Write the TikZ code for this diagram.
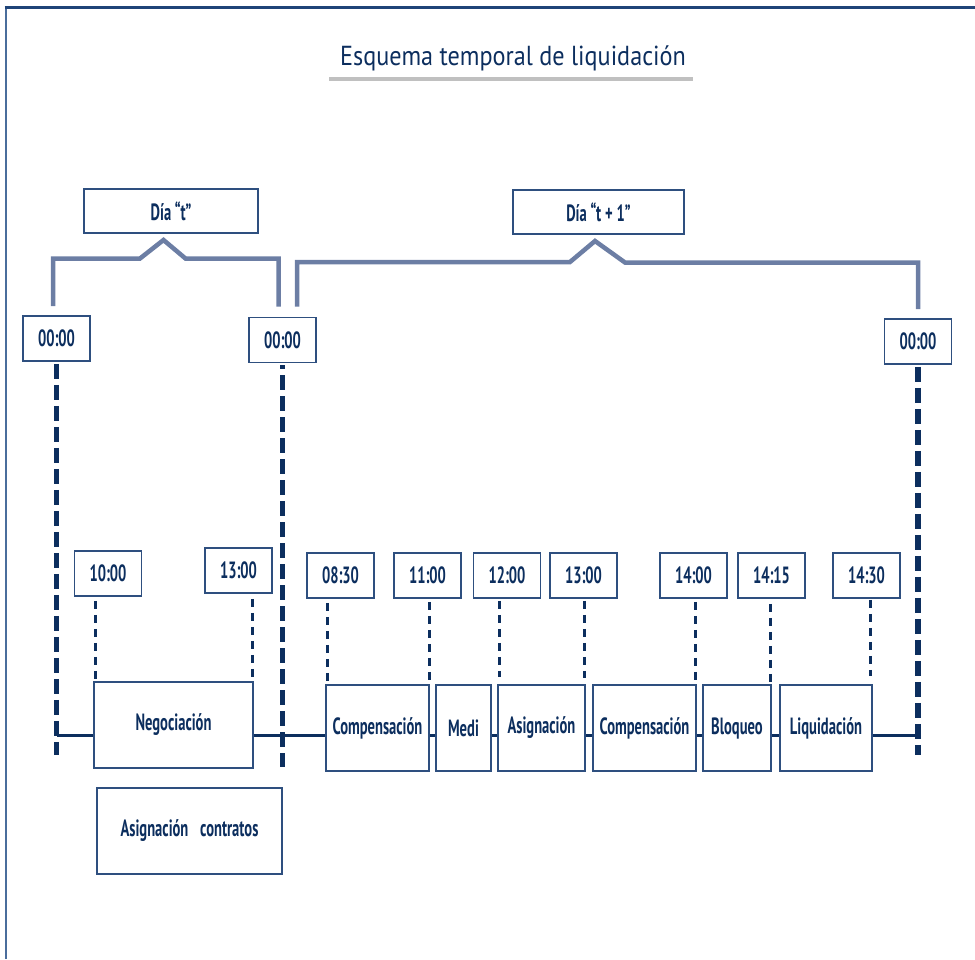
\documentclass[tikz,border=0pt]{standalone}
\usepackage{fontspec}
\newfontfamily\lblfont[FakeStretch=0.62]{PT Sans Bold}
\newfontfamily\ttlfont[FakeStretch=0.88]{PT Sans}
\definecolor{navy}{RGB}{12,46,94}
\definecolor{boxc}{RGB}{46,79,127}
\definecolor{brk}{RGB}{108,126,164}
\definecolor{frametop}{RGB}{31,68,120}
\definecolor{frameleft}{RGB}{74,109,156}
\definecolor{ulgray}{RGB}{192,192,192}
\tikzset{
  timebox/.style={draw=boxc, line width=1.6pt, fill=white, text=navy,
    minimum width=67pt, minimum height=45pt, inner sep=0pt,
    font=\lblfont\fontsize{23.5}{27}\selectfont},
  daybox/.style={timebox, minimum height=44pt},
  procbox/.style={draw=boxc, line width=1.6pt, fill=white, text=navy,
    minimum height=86pt, inner sep=0pt,
    font=\lblfont\fontsize{23.5}{27}\selectfont},
  bracket/.style={draw=brk, line width=4.5pt, line join=miter},
  daysep/.style={draw=navy, line width=5.5pt, dash pattern=on 15pt off 6pt},
  tick/.style={draw=navy, line width=3pt, dash pattern=on 8pt off 6pt},
  timeline/.style={draw=navy, line width=3pt},
}
\begin{document}
\begin{tikzpicture}[x=1pt,y=-1pt]
\useasboundingbox (0,0) rectangle (975,959);

% outer frame (top and left edges)
\draw[frameleft, line width=2pt] (5.5,959) -- (5.5,7.5);
\draw[frametop, line width=2.2pt] (4.5,7.5) -- (975,7.5);

% title with its underline
\node[text=navy, font=\ttlfont\fontsize{27.5}{32}\selectfont] (title) at (513,58) {Esquema temporal de liquidación};
\coordinate (ulA) at (329,79);
\coordinate (ulB) at (693,79);
\draw[ulgray, line width=3.5pt] (ulA) -- (ulB);

% horizontal time axis
\coordinate (tlA) at (56.5,735);
\coordinate (tlC) at (918,735);
\draw[timeline] (tlA) -- (tlC);

% day labels
\node[daybox, minimum width=174pt] (dt) at (171,211) {Día “t”};
\node[daybox, minimum width=171pt] (dt1) at (598.5,212) {Día “t\,+\,1”};

% midnight markers
\node[timebox] (ta) at (56.5,338.5) {00:00};
\node[timebox] (tb) at (282.5,340) {00:00};
\node[timebox] (tc) at (918,341.5) {00:00};

% brackets spanning each day
\coordinate (pkt) at (163.5,240);
\coordinate (pkt1) at (595,241);
\draw[bracket] ([xshift=-3.5pt,yshift=9pt]ta.north) |- (140,258.5) -- (pkt) -- (185.5,258.5) -| ([xshift=-4pt,yshift=10pt]tb.north);
\draw[bracket] ([xshift=14.5pt,yshift=10pt]tb.north) |- (570,262) -- (pkt1) -- (625,262.5) -| ([yshift=9pt]tc.north);

% day separators
\coordinate (endA) at (56.5,755);
\coordinate (endB) at (282.5,767);
\coordinate (endC) at (918,755);
\draw[daysep] ([yshift=-2pt]ta.south) -- (endA);
\draw[daysep, dash phase=11pt] ([yshift=-2pt]tb.south) -- (endB);
\draw[daysep] ([yshift=-2pt]tc.south) -- (endC);

% day t activities
\node[procbox, minimum width=159pt] (neg) at (173.5,725) {Negociación};
\node[procbox, minimum width=185pt] (asc) at (189.5,831) {Asignación\hspace{0.5em}contratos};

% day t+1 activities
\node[procbox, minimum width=103pt] (comp1) at (377.5,728) {Compensación};
\node[procbox, minimum width=55pt]  (medi)  at (463.5,728) {Medi};
\node[procbox, minimum width=87pt]  (asig)  at (541.5,728) {Asignación};
\node[procbox, minimum width=103pt] (comp2) at (644.5,728) {Compensación};
\node[procbox, minimum width=68pt]  (bloq)  at (737,728) {Bloqueo};
\node[procbox, minimum width=92pt]  (liq)   at (826,728) {Liquidación};

% time stamps
\node[timebox] (h1000) at (108,573.5) {10:00};
\node[timebox] (h1300a) at (238.5,570.5) {13:00};
\node[timebox] (h0830) at (340.5,575.5) {08:30};
\node[timebox] (h1100) at (427.5,575.5) {11:00};
\node[timebox] (h1200) at (507,575.5) {12:00};
\node[timebox] (h1300b) at (583.5,575.5) {13:00};
\node[timebox] (h1400) at (693.5,575.5) {14:00};
\node[timebox] (h1415) at (771.5,575.5) {14:15};
\node[timebox] (h1430) at (866.5,575.5) {14:30};

% ticks from each time stamp down to its activity
\draw[tick] ([xshift=-13pt,yshift=-4pt]h1000.south) coordinate (k1) -- (k1 |- neg.north);
\draw[tick] ([xshift=13.5pt,yshift=-5pt]h1300a.south) coordinate (k2) -- ([yshift=4pt]k2 |- neg.north);
\draw[tick] ([xshift=-13.5pt,yshift=-4pt]h0830.south) coordinate (k3) -- (k3 |- comp1.north);
\draw[tick] ([xshift=1.5pt,yshift=-3pt]h1100.south) coordinate (k4) -- (k4 |- comp1.north);
\draw[tick] ([xshift=-8pt,yshift=-2pt]h1200.south) coordinate (k5) -- ([yshift=7pt]k5 |- asig.north);
\draw[tick] ([xshift=0.5pt,yshift=-2pt]h1300b.south) coordinate (k6) -- ([yshift=6pt]k6 |- asig.north);
\draw[tick] ([xshift=1.5pt,yshift=-3pt]h1400.south) coordinate (k7) -- ([yshift=4pt]k7 |- comp2.north);
\draw[tick] ([xshift=-1.5pt,yshift=-5pt]h1415.south) coordinate (k8) -- ([yshift=2pt]k8 |- bloq.north);
\draw[tick] ([xshift=3.5pt,yshift=-1pt]h1430.south) coordinate (k9) -- ([yshift=8pt]k9 |- liq.north);
\end{tikzpicture}
\end{document}
